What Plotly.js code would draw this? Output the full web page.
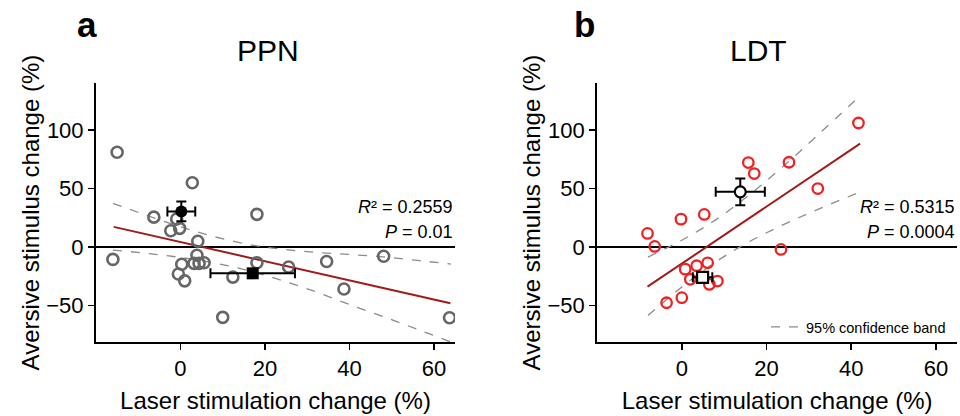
<!DOCTYPE html>
<html>
<head>
<meta charset="utf-8">
<script src="https://cdn.plot.ly/plotly-3.0.1.min.js"></script>
<style>html,body{margin:0;padding:0;background:#fff;}#chart{width:960px;height:416px;}</style>
</head>
<body>
<div id="chart"></div>
<script>
// ---- Panel a: PPN ----
const ppnX = [-15, -16, -6.3, -0.9, -2.3, -0.2, 2.8, 4.1, 3.9, 0.3, -0.5, 1, 3.2, 4.4, 5.6, 10, 12.4, 18.1, 18.1, 25.6, 34.6, 38.7, 48.1, 63.7];
const ppnY = [81, -10.5, 25.6, 24, 14, 16, 55, 5, -7, -14.6, -23, -28.8, -13.9, -13.9, -13.4, -60, -25.6, 28, -13.4, -17, -12.3, -35.8, -7.8, -60.3];
const ppnFitX = [-15.8, 63.9];
const ppnFitY = [17.3, -48];
const ppnBandX = [-16, -8, 0, 8, 16, 24, 32, 40, 48, 56, 64];
const ppnUpper = [37.4, 27.1, 17.4, 8.9, 2.4, -1.8, -4.5, -6.3, -8.3, -11.3, -14.5];
const ppnLower = [-2.6, -5.3, -8.8, -13.5, -20, -28.5, -38.1, -49, -59.3, -70.1, -81];
const ppnMeanX = [0.2, 17.1];
const ppnMeanY = [30.5, -22.4];
const ppnMeanErrX = [3.3, 10];
const ppnMeanErrY = [8.5, 2.5];
const ppnStats = ["<i>R</i>² = 0.2559", "<i>P</i> = 0.01"];

// ---- Panel b: LDT ----
const ldtX = [-8.1, -6.4, -0.2, 5.3, 15.7, 17.1, 0.8, 3.5, 6.1, 2, 6.5, 8.4, -3.6, 0, 23.4, 25.3, 32.1, 41.7];
const ldtY = [11.7, 0.6, 23.9, 27.9, 72.2, 62.8, -18.8, -15.9, -13.4, -27.5, -31.8, -29, -47.5, -43.2, -2, 72.5, 50, 106];
const ldtFitX = [-8.1, 42.1];
const ldtFitY = [-33.8, 88.4];
const ldtBandX = [-8, 0, 8, 16, 24, 32, 42];
const ldtUpper = [-8.5, 5.9, 23.3, 44.8, 69.2, 95.4, 129];
const ldtLower = [-58.5, -34.1, -12.7, 4.8, 19.2, 32, 47];
const ldtMeanX = [13.8, 4.9];
const ldtMeanY = [47.2, -25.8];
const ldtMeanErrX = [5.8, 2.3];
const ldtMeanErrY = [11.4, 2.5];
const ldtStats = ["<i>R</i>² = 0.5315", "<i>P</i> = 0.0004"];

const xTicks = [0, 20, 40, 60];
const yTicks = [-50, 0, 50, 100];
const panelTitles = ["PPN", "LDT"];
const panelLetters = ["a", "b"];
const xTitle = "Laser stimulation change (%)";
const yTitle = "Aversive stimulus change (%)";
const bandName = "95% confidence band";

const FONT = "Arial, 'Liberation Sans', Helvetica, sans-serif";
const fitColor = "#a01a1a";
const bandStyle = {color: "#8c8c8c", width: 1.3, dash: "dash", shape: "spline"};

function band(x, y, xa, ya, show) {
  return {x: x, y: y, xaxis: xa, yaxis: ya, mode: "lines", line: bandStyle,
          name: bandName, showlegend: show, hoverinfo: "skip"};
}

const traces = [
  band(ppnBandX, ppnUpper, "x", "y", false),
  band(ppnBandX, ppnLower, "x", "y", false),
  {x: ppnFitX, y: ppnFitY, xaxis: "x", yaxis: "y", mode: "lines",
   line: {color: fitColor, width: 2}, showlegend: false},
  {x: ppnX, y: ppnY, xaxis: "x", yaxis: "y", mode: "markers", showlegend: false,
   marker: {symbol: "circle-open", size: 11, color: "#666666", line: {width: 2.6, color: "#666666"}}},
  {x: ppnMeanX, y: ppnMeanY, xaxis: "x", yaxis: "y", mode: "markers", showlegend: false,
   marker: {symbol: ["circle", "square"], size: 12, color: "#000"},
   error_x: {type: "data", array: ppnMeanErrX, visible: true, color: "#000", thickness: 2, width: 5},
   error_y: {type: "data", array: ppnMeanErrY, visible: true, color: "#000", thickness: 2, width: 5}},

  band(ldtBandX, ldtUpper, "x2", "y2", true),
  band(ldtBandX, ldtLower, "x2", "y2", false),
  {x: ldtFitX, y: ldtFitY, xaxis: "x2", yaxis: "y2", mode: "lines",
   line: {color: fitColor, width: 2}, showlegend: false},
  {x: ldtX, y: ldtY, xaxis: "x2", yaxis: "y2", mode: "markers", showlegend: false,
   marker: {symbol: "circle-open", size: 10.5, color: "#ee2222", line: {width: 2.3, color: "#ee2222"}}},
  {x: ldtMeanX, y: ldtMeanY, xaxis: "x2", yaxis: "y2", mode: "markers", showlegend: false,
   marker: {symbol: ["circle", "square"], size: 11, color: "#fff", line: {width: 2.2, color: "#000"}},
   error_x: {type: "data", array: ldtMeanErrX, visible: true, color: "#000", thickness: 2, width: 5},
   error_y: {type: "data", array: ldtMeanErrY, visible: true, color: "#000", thickness: 2, width: 5}}
];

function xax(domain, anchor) {
  return {domain: domain, anchor: anchor, range: [-20, 65], tickvals: xTicks,
          showline: true, linecolor: "#000", linewidth: 2, ticks: "outside", ticklen: 6,
          tickwidth: 1.5, tickcolor: "#000", showgrid: false, zeroline: false,
          tickfont: {size: 22, color: "#000", family: FONT},
          title: {text: xTitle, font: {size: 24, color: "#000", family: FONT}, standoff: 12}};
}
function yax(anchor) {
  return {domain: [0.178, 0.800], anchor: anchor, range: [-81, 140], tickvals: yTicks,
          showline: true, linecolor: "#000", linewidth: 2, ticks: "outside", ticklen: 6,
          tickwidth: 1.5, tickcolor: "#000", showgrid: false,
          zeroline: true, zerolinecolor: "#000", zerolinewidth: 2,
          tickfont: {size: 22, color: "#000", family: FONT},
          title: {text: yTitle, font: {size: 24, color: "#000", family: FONT}, standoff: 0}};
}

const annotations = [
  {xref: "paper", yref: "paper", x: 268 / 960, y: 1 - 50 / 416, text: panelTitles[0], showarrow: false,
   xanchor: "center", yanchor: "middle", font: {size: 30, family: FONT, color: "#000"}},
  {xref: "paper", yref: "paper", x: 758 / 960, y: 1 - 50 / 416, text: panelTitles[1], showarrow: false,
   xanchor: "center", yanchor: "middle", font: {size: 30, family: FONT, color: "#000"}},
  {xref: "paper", yref: "paper", x: 87 / 960, y: 1 - 24 / 416, text: "<b>" + panelLetters[0] + "</b>", showarrow: false,
   xanchor: "center", yanchor: "middle", font: {size: 35, family: FONT, color: "#000"}},
  {xref: "paper", yref: "paper", x: 584 / 960, y: 1 - 24 / 416, text: "<b>" + panelLetters[1] + "</b>", showarrow: false,
   xanchor: "center", yanchor: "middle", font: {size: 35, family: FONT, color: "#000"}},
  {xref: "x", yref: "y", x: 65, y: 34, text: ppnStats[0], showarrow: false, xanchor: "right", yanchor: "middle",
   font: {size: 18, family: FONT, color: "#000"}},
  {xref: "x", yref: "y", x: 65, y: 12.8, text: ppnStats[1], showarrow: false, xanchor: "right", yanchor: "middle",
   font: {size: 18, family: FONT, color: "#000"}},
  {xref: "x2", yref: "y2", x: 65, y: 34, text: ldtStats[0], showarrow: false, xanchor: "right", yanchor: "middle",
   font: {size: 18, family: FONT, color: "#000"}},
  {xref: "x2", yref: "y2", x: 65, y: 12.8, text: ldtStats[1], showarrow: false, xanchor: "right", yanchor: "middle",
   font: {size: 18, family: FONT, color: "#000"}}
];

const layout = {
  width: 960, height: 416,
  margin: {l: 0, r: 0, t: 0, b: 0},
  paper_bgcolor: "#fff", plot_bgcolor: "#fff",
  font: {family: FONT, color: "#000"},
  xaxis: xax([0.1, 0.474], "y"),
  yaxis: yax("x"),
  xaxis2: xax([0.622, 0.997], "y2"),
  yaxis2: yax("x2"),
  showlegend: true,
  legend: {x: 766 / 960, y: 1 - 327 / 416, xanchor: "left", yanchor: "middle",
           bgcolor: "rgba(0,0,0,0)", font: {size: 14.5, family: FONT, color: "#000"},
           itemwidth: 30, tracegroupgap: 0},
  annotations: annotations
};

Plotly.newPlot("chart", traces, layout, {displayModeBar: false, staticPlot: true});
</script>
</body>
</html>
